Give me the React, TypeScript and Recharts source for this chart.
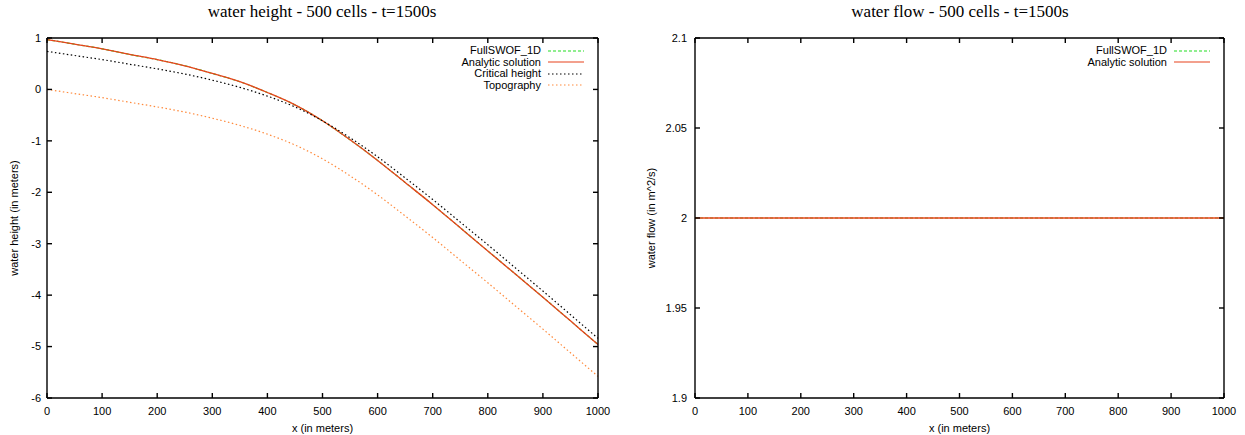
import React from 'react';
import { Label, Line, LineChart, XAxis, YAxis } from 'recharts';

// positions along the channel (m)
const xPositions = [0, 50, 100, 150, 200, 250, 300, 350, 400, 450, 500, 550, 600, 650, 700, 750, 800, 850, 900, 950, 1000];

// water height plot
const fullSwofHeight = [0.97, 0.88, 0.79, 0.68, 0.58, 0.46, 0.31, 0.15, -0.06, -0.3, -0.61, -0.98, -1.38, -1.81, -2.24, -2.69, -3.14, -3.59, -4.04, -4.5, -4.96];
const analyticHeight = [0.97, 0.88, 0.79, 0.68, 0.58, 0.46, 0.31, 0.15, -0.06, -0.3, -0.61, -0.98, -1.38, -1.81, -2.24, -2.69, -3.14, -3.59, -4.04, -4.5, -4.96];
const criticalHeight = [0.74, 0.66, 0.58, 0.49, 0.4, 0.3, 0.18, 0.04, -0.13, -0.34, -0.61, -0.94, -1.31, -1.72, -2.14, -2.58, -3.02, -3.47, -3.92, -4.38, -4.84];
const topography = [0, -0.08, -0.16, -0.25, -0.34, -0.44, -0.56, -0.7, -0.87, -1.08, -1.35, -1.68, -2.05, -2.46, -2.88, -3.32, -3.76, -4.21, -4.66, -5.12, -5.58];

// water flow plot
const flowPositions = [0, 100, 200, 300, 400, 500, 600, 700, 800, 900, 1000];
const fullSwofFlow = [2, 2, 2, 2, 2, 2, 2, 2, 2, 2, 2];
const analyticFlow = [2, 2, 2, 2, 2, 2, 2, 2, 2, 2, 2];

const xTicks = [0, 100, 200, 300, 400, 500, 600, 700, 800, 900, 1000];
const heightTicks = [-6, -5, -4, -3, -2, -1, 0, 1];
const flowTicks = [1.9, 1.95, 2, 2.05, 2.1];

const heightData = xPositions.map((x, i) => ({
  x,
  fullswof: fullSwofHeight[i],
  analytic: analyticHeight[i],
  critical: criticalHeight[i],
  topo: topography[i],
}));

const flowData = flowPositions.map((x, i) => ({
  x,
  fullswof: fullSwofFlow[i],
  analytic: analyticFlow[i],
}));

const SANS = '"Liberation Sans", Arial, sans-serif';
const SERIF = '"Liberation Serif", "Times New Roman", serif';
const GREEN = '#22dd22';
const RED = '#e8421c';
const ORANGE = '#ff8a3c';
const AXIS_W = 1.4;

const tickFont = { fill: '#000', fontSize: 11, fontFamily: SANS };
const noLabel = () => <g />;

interface LegendItem {
  name: string;
  color: string;
  dash?: string;
}

const heightLegend: LegendItem[] = [
  { name: 'FullSWOF_1D', color: GREEN, dash: '3 2' },
  { name: 'Analytic solution', color: RED },
  { name: 'Critical height', color: '#000', dash: '1.5 2.5' },
  { name: 'Topography', color: ORANGE, dash: '1.5 2.5' },
];

const flowLegend: LegendItem[] = heightLegend.slice(0, 2);

function KeyBox({ items, right }: { items: LegendItem[]; right: number }) {
  return (
    <div style={{ position: 'absolute', top: 45, right, fontFamily: SANS, fontSize: 11 }}>
      {items.map((it) => (
        <div key={it.name} style={{ display: 'flex', alignItems: 'center', justifyContent: 'flex-end', height: 11.5 }}>
          <span style={{ marginRight: 7, lineHeight: '11.5px' }}>{it.name}</span>
          <svg width={36} height={4}>
            <line x1={0} y1={2} x2={36} y2={2} stroke={it.color} strokeWidth={1.2} strokeDasharray={it.dash} />
          </svg>
        </div>
      ))}
    </div>
  );
}

function YTitle({ viewBox, text, x }: any) {
  const cy = viewBox.y + viewBox.height / 2;
  return (
    <text x={x} y={cy} transform={`rotate(-90, ${x}, ${cy})`} textAnchor="middle" dominantBaseline="central"
      fontSize={11} fontFamily={SANS} fill="#000">
      {text}
    </text>
  );
}

function XTitle({ viewBox }: any) {
  return (
    <text x={viewBox.x + viewBox.width / 2} y={viewBox.y + 34} textAnchor="middle" fontSize={11} fontFamily={SANS} fill="#000">
      x (in meters)
    </text>
  );
}

function Title({ text, center }: { text: string; center: number }) {
  return (
    <div style={{ position: 'absolute', top: 2, left: center - 200, width: 400, textAlign: 'center', fontFamily: SERIF, fontSize: 17 }}>
      {text}
    </div>
  );
}

export default function App() {
  return (
    <div style={{ position: 'absolute', left: 0, top: 0, width: 1245, height: 435, background: '#fff' }}>
      <Title text="water height - 500 cells - t=1500s" center={322} />
      <Title text="water flow - 500 cells - t=1500s" center={960} />

      <div style={{ position: 'absolute', left: 0, top: 0 }}>
        <LineChart width={620} height={435} data={heightData} margin={{ top: 33, right: 17, bottom: 0, left: 0 }}>
          <XAxis dataKey="x" type="number" domain={[0, 1000]} ticks={xTicks} height={37} stroke="#000" strokeWidth={AXIS_W}
            tickSize={-5} tickMargin={14} tick={tickFont} interval={0}>
            <Label content={(p: any) => <XTitle viewBox={p.viewBox} />} />
          </XAxis>
          <XAxis xAxisId="top" dataKey="x" orientation="top" type="number" domain={[0, 1000]} ticks={xTicks} height={5}
            stroke="#000" strokeWidth={AXIS_W} tickSize={-5} tick={noLabel} interval={0} />
          <YAxis type="number" domain={[-6, 1]} ticks={heightTicks} width={47} stroke="#000" strokeWidth={AXIS_W}
            tickSize={-5} tickMargin={11} tick={tickFont} interval={0}>
            <Label content={(p: any) => <YTitle viewBox={p.viewBox} x={14} text="water height (in meters)" />} />
          </YAxis>
          <YAxis yAxisId="right" orientation="right" type="number" domain={[-6, 1]} ticks={heightTicks} width={5}
            stroke="#000" strokeWidth={AXIS_W} tickSize={-5} tick={noLabel} interval={0} />
          <Line dataKey="fullswof" type="monotone" stroke={GREEN} strokeWidth={1.2} strokeDasharray="3 2" dot={false} isAnimationActive={false} />
          <Line dataKey="analytic" type="monotone" stroke={RED} strokeWidth={1.3} dot={false} isAnimationActive={false} />
          <Line dataKey="critical" type="monotone" stroke="#000" strokeWidth={1.2} strokeDasharray="1.5 2.5" dot={false} isAnimationActive={false} />
          <Line dataKey="topo" type="monotone" stroke={ORANGE} strokeWidth={1.2} strokeDasharray="1.5 2.5" dot={false} isAnimationActive={false} />
          {/* invisible copy bound to the mirror axes so they get drawn */}
          <Line xAxisId="top" yAxisId="right" dataKey="topo" stroke="none" dot={false} legendType="none" isAnimationActive={false} />
        </LineChart>
      </div>

      <div style={{ position: 'absolute', left: 620, top: 0 }}>
        <LineChart width={625} height={435} data={flowData} margin={{ top: 33, right: 16, bottom: 0, left: 0 }}>
          <XAxis dataKey="x" type="number" domain={[0, 1000]} ticks={xTicks} height={37} stroke="#000" strokeWidth={AXIS_W}
            tickSize={-5} tickMargin={14} tick={tickFont} interval={0}>
            <Label content={(p: any) => <XTitle viewBox={p.viewBox} />} />
          </XAxis>
          <XAxis xAxisId="top" dataKey="x" orientation="top" type="number" domain={[0, 1000]} ticks={xTicks} height={5}
            stroke="#000" strokeWidth={AXIS_W} tickSize={-5} tick={noLabel} interval={0} />
          <YAxis type="number" domain={[1.9, 2.1]} ticks={flowTicks} width={75} stroke="#000" strokeWidth={AXIS_W}
            tickSize={-5} tickMargin={13} tick={tickFont} interval={0}>
            <Label content={(p: any) => <YTitle viewBox={p.viewBox} x={31} text="water flow (in m^2/s)" />} />
          </YAxis>
          <YAxis yAxisId="right" orientation="right" type="number" domain={[1.9, 2.1]} ticks={flowTicks} width={5}
            stroke="#000" strokeWidth={AXIS_W} tickSize={-5} tick={noLabel} interval={0} />
          <Line dataKey="fullswof" type="monotone" stroke={GREEN} strokeWidth={1.2} strokeDasharray="3 2" dot={false} isAnimationActive={false} />
          <Line dataKey="analytic" type="monotone" stroke={RED} strokeWidth={1.3} dot={false} isAnimationActive={false} />
          <Line xAxisId="top" yAxisId="right" dataKey="analytic" stroke="none" dot={false} legendType="none" isAnimationActive={false} />
        </LineChart>
      </div>

      <KeyBox items={heightLegend} right={1245 - 584} />
      <KeyBox items={flowLegend} right={1245 - 1210} />
    </div>
  );
}
